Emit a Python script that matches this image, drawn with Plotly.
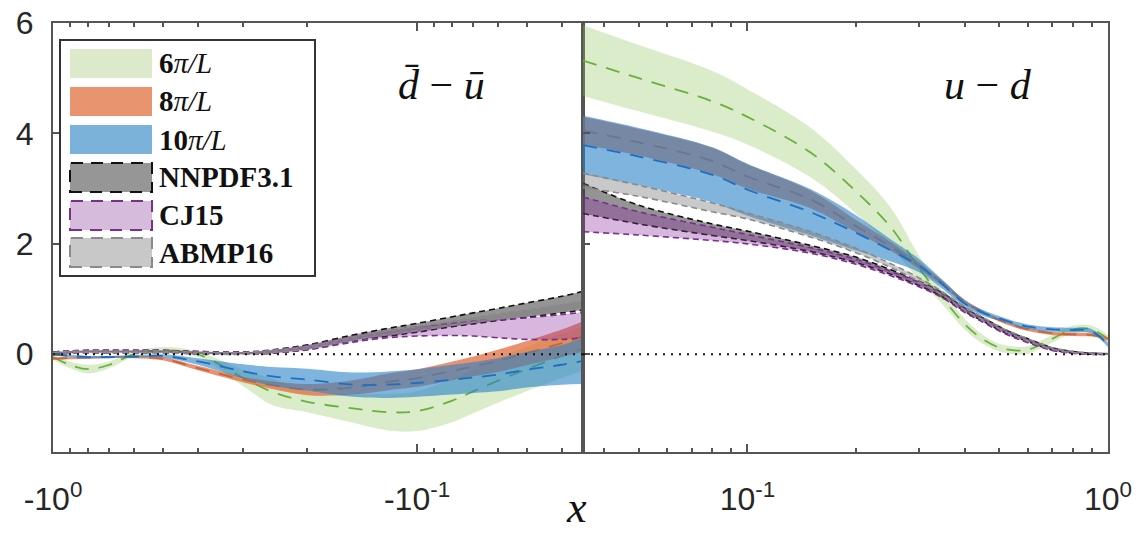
import plotly.graph_objects as go
import numpy as np

# ---------------- data ----------------
# left panel: d-bar minus u-bar, x negative
x_left = [-1.0, -0.9, -0.8, -0.7, -0.6, -0.5, -0.4, -0.3, -0.25, -0.2, -0.15, -0.12, -0.1,
          -0.08, -0.07, -0.06, -0.05, -0.04, -0.035]
# right panel: u minus d, x positive
x_right = [0.035, 0.05, 0.08, 0.1, 0.15, 0.2, 0.25, 0.3, 0.35, 0.4, 0.45, 0.5, 0.55, 0.6,
           0.7, 0.8, 0.9, 1.0]

dbub_6pi_c = [-0.05, -0.19, -0.27, -0.19, 0.0, 0.07, 0.0, -0.43, -0.68, -0.86, -0.98, -1.05, -1.03,
              -0.84, -0.67, -0.48, -0.27, -0.03, 0.1]
dbub_6pi_e = [0.05, 0.06, 0.08, 0.06, 0.05, 0.06, 0.05, 0.15, 0.24, 0.19, 0.26, 0.33, 0.36,
              0.39, 0.4, 0.4, 0.4, 0.4, 0.4]
dbub_8pi_c = [-0.08, -0.07, -0.06, -0.05, -0.05, -0.08, -0.25, -0.46, -0.56, -0.64, -0.6, -0.5, -0.43,
              -0.3, -0.22, -0.12, 0.02, 0.2, 0.32]
dbub_8pi_e = [0.02, 0.02, 0.02, 0.02, 0.02, 0.03, 0.04, 0.05, 0.07, 0.1, 0.13, 0.15, 0.16,
              0.17, 0.18, 0.2, 0.22, 0.25, 0.28]
dbub_10pi_c = [0.0, -0.03, -0.05, -0.05, -0.04, -0.03, -0.13, -0.31, -0.4, -0.46, -0.55, -0.55, -0.52,
               -0.46, -0.42, -0.37, -0.28, -0.19, -0.12]
dbub_10pi_e = [0.02, 0.02, 0.02, 0.02, 0.02, 0.03, 0.06, 0.13, 0.17, 0.2, 0.22, 0.24, 0.25,
               0.27, 0.28, 0.3, 0.32, 0.36, 0.42]
dbub_nnpdf_lo = [0.0, 0.02, 0.03, 0.03, 0.03, 0.03, 0.01, 0.0, 0.02, 0.09, 0.25, 0.33, 0.4,
                 0.5, 0.55, 0.61, 0.67, 0.75, 0.8]
dbub_nnpdf_hi = [0.04, 0.06, 0.07, 0.07, 0.07, 0.07, 0.05, 0.04, 0.08, 0.17, 0.35, 0.47, 0.56,
                 0.68, 0.75, 0.83, 0.93, 1.05, 1.14]
dbub_cj15_lo = [0.0, 0.02, 0.03, 0.03, 0.03, 0.03, 0.01, 0.0, 0.02, 0.08, 0.22, 0.3, 0.33,
                0.34, 0.33, 0.3, 0.27, 0.27, 0.3]
dbub_cj15_hi = [0.04, 0.06, 0.07, 0.07, 0.07, 0.07, 0.05, 0.04, 0.07, 0.16, 0.32, 0.42, 0.5,
                0.56, 0.6, 0.63, 0.66, 0.72, 0.76]
dbub_abmp_lo = [0.01, 0.02, 0.03, 0.03, 0.03, 0.03, 0.01, 0.0, 0.03, 0.1, 0.26, 0.36, 0.43,
                0.53, 0.58, 0.64, 0.7, 0.78, 0.84]
dbub_abmp_hi = [0.03, 0.05, 0.06, 0.06, 0.06, 0.06, 0.04, 0.03, 0.07, 0.14, 0.31, 0.42, 0.5,
                0.6, 0.66, 0.73, 0.8, 0.9, 0.96]

umd_6pi_c = [5.32, 5.0, 4.58, 4.3, 3.65, 2.95, 2.3, 1.55, 1.0, 0.55, 0.27, 0.12, 0.07, 0.08,
             0.28, 0.45, 0.45, 0.28]
umd_6pi_e = [0.64, 0.6, 0.55, 0.5, 0.45, 0.4, 0.35, 0.22, 0.12, 0.1, 0.08, 0.07, 0.07, 0.07,
             0.07, 0.07, 0.07, 0.07]
umd_8pi_c = [4.05, 3.84, 3.5, 3.22, 2.8, 2.32, 1.95, 1.6, 1.27, 0.95, 0.76, 0.62, 0.52, 0.45,
             0.38, 0.36, 0.35, 0.28]
umd_8pi_e = [0.25, 0.24, 0.24, 0.22, 0.16, 0.11, 0.08, 0.06, 0.05, 0.04, 0.03, 0.03, 0.03, 0.03,
             0.03, 0.03, 0.03, 0.03]
umd_10pi_c = [3.79, 3.58, 3.25, 2.98, 2.57, 2.2, 1.88, 1.6, 1.25, 0.92, 0.75, 0.65, 0.56, 0.5,
              0.45, 0.44, 0.42, 0.17]
umd_10pi_e = [0.53, 0.52, 0.5, 0.47, 0.42, 0.32, 0.2, 0.12, 0.08, 0.06, 0.05, 0.04, 0.04, 0.04,
              0.04, 0.04, 0.04, 0.04]
umd_nnpdf_lo = [2.55, 2.36, 2.15, 2.06, 1.86, 1.66, 1.45, 1.24, 1.03, 0.78, 0.6, 0.44, 0.32, 0.23,
                0.08, 0.02, 0.0, 0.0]
umd_nnpdf_hi = [3.1, 2.7, 2.36, 2.23, 1.97, 1.76, 1.53, 1.32, 1.1, 0.84, 0.66, 0.5, 0.37, 0.28,
                0.12, 0.05, 0.02, 0.01]
umd_cj15_lo = [2.22, 2.16, 2.06, 2.0, 1.83, 1.63, 1.42, 1.22, 1.01, 0.76, 0.58, 0.42, 0.3, 0.21,
               0.07, 0.02, 0.0, 0.0]
umd_cj15_hi = [2.85, 2.58, 2.3, 2.17, 1.93, 1.72, 1.5, 1.3, 1.08, 0.82, 0.64, 0.48, 0.35, 0.26,
               0.11, 0.04, 0.02, 0.01]
umd_abmp_lo = [3.02, 2.86, 2.58, 2.45, 2.12, 1.84, 1.57, 1.31, 1.06, 0.8, 0.62, 0.46, 0.34, 0.24,
               0.09, 0.03, 0.0, 0.0]
umd_abmp_hi = [3.28, 3.06, 2.74, 2.56, 2.22, 1.92, 1.64, 1.38, 1.12, 0.86, 0.67, 0.5, 0.38, 0.28,
               0.12, 0.05, 0.02, 0.01]

legend_labels = ["<b>6</b><i>π/L</i>", "<b>8</b><i>π/L</i>", "<b>10</b><i>π/L</i>",
                 "<b>NNPDF3.1</b>", "<b>CJ15</b>", "<b>ABMP16</b>"]

# ---------------- styles ----------------
FILL = {
    "6pi": "rgba(140,195,90,0.32)",
    "8pi": "rgba(225,100,50,0.70)",
    "10pi": "rgba(40,130,200,0.60)",
    "nnpdf": "rgba(60,60,60,0.55)",
    "cj15": "rgba(140,50,160,0.35)",
    "abmp": "rgba(120,120,120,0.40)",
}
LINE = {"6pi": "#6bb03d", "8pi": "#c8643c", "10pi": "#1f6fc0",
        "nnpdf": "#111111", "cj15": "#7a2e8e", "abmp": "#8a8a8a"}
SWATCH = {"6pi": "#dce9cb", "8pi": "#e8946e", "10pi": "#7ab2da",
          "nnpdf": "#969696", "cj15": "#d7bbdc", "abmp": "#c8c8c8"}

fig = go.Figure()


def add_band(xv, lo, hi, key, xa, ya, edge_dash=False, center=None):
    lw = 1.6 if edge_dash else 0
    fig.add_trace(go.Scatter(x=xv, y=lo, mode="lines", xaxis=xa, yaxis=ya,
                             line=dict(color=LINE[key], width=lw, dash="6px,4px", shape="spline"),
                             hoverinfo="skip", showlegend=False))
    fig.add_trace(go.Scatter(x=xv, y=hi, mode="lines", xaxis=xa, yaxis=ya, fill="tonexty",
                             fillcolor=FILL[key],
                             line=dict(color=LINE[key], width=lw, dash="6px,4px", shape="spline"),
                             hoverinfo="skip", showlegend=False))
    if center is not None:
        fig.add_trace(go.Scatter(x=xv, y=center, mode="lines", xaxis=xa, yaxis=ya,
                                 line=dict(color=LINE[key], width=1.8, dash="14px,10px", shape="spline"),
                                 hoverinfo="skip", showlegend=False))


xl = np.abs(np.array(x_left))
xr = np.array(x_right)

for xv, xa, ya, sets in [
    (xl, "x", "y", [(dbub_6pi_c, dbub_6pi_e, "6pi"), (dbub_8pi_c, dbub_8pi_e, "8pi"),
                    (dbub_10pi_c, dbub_10pi_e, "10pi")]),
    (xr, "x2", "y2", [(umd_6pi_c, umd_6pi_e, "6pi"), (umd_8pi_c, umd_8pi_e, "8pi"),
                      (umd_10pi_c, umd_10pi_e, "10pi")]),
]:
    for c, e, key in sets:
        c = np.array(c); e = np.array(e)
        add_band(xv, c - e, c + e, key, xa, ya, center=c)

for xv, xa, ya, sets in [
    (xl, "x", "y", [(dbub_nnpdf_lo, dbub_nnpdf_hi, "nnpdf"), (dbub_cj15_lo, dbub_cj15_hi, "cj15"),
                    (dbub_abmp_lo, dbub_abmp_hi, "abmp")]),
    (xr, "x2", "y2", [(umd_nnpdf_lo, umd_nnpdf_hi, "nnpdf"), (umd_cj15_lo, umd_cj15_hi, "cj15"),
                      (umd_abmp_lo, umd_abmp_hi, "abmp")]),
]:
    for lo, hi, key in sets:
        add_band(xv, lo, hi, key, xa, ya, edge_dash=True)

# ---------------- layout ----------------
W, H = 1140, 535
ML, MT = 53, 23
PW, PH = 1055, 429
MR = W - ML - PW
MB = H - MT - PH
split = (583 - 53) / PW


def P(px, py):
    """window pixel -> paper coords"""
    return (px - ML) / PW, (H - MB - py) / PH


axcol = "#555555"
tickfont = dict(family="Liberation Sans, Arial", size=32, color="#262626")
common_x = dict(type="log", showline=True, linecolor=axcol, linewidth=2, mirror="allticks",
                ticks="inside", ticklen=8, tickwidth=1.5, tickcolor=axcol, showgrid=False,
                zeroline=False, tickfont=tickfont, ticklabelstandoff=18, automargin=False,
                ticklabeloverflow="allow")
minor_l = dict(ticks="inside", ticklen=4, tickwidth=1.5, tickcolor=axcol, showgrid=False,
               tickvals=[0.9, 0.8, 0.7, 0.6, 0.5, 0.4, 0.3, 0.2, 0.09, 0.08, 0.07, 0.06, 0.05, 0.04])
fig.update_layout(
    width=W, height=H, margin=dict(l=ML, r=MR, t=MT, b=MB, autoexpand=False),
    paper_bgcolor="white", plot_bgcolor="white", showlegend=False,
    xaxis=dict(domain=[0, split], range=[0, np.log10(0.035)], anchor="y",
               tickvals=[1, 0.1], ticktext=["-10<sup>0</sup>", "-10<sup>-1</sup>"],
               minor=minor_l, **common_x),
    xaxis2=dict(domain=[split, 1], range=[np.log10(0.035), 0], anchor="y2",
                tickvals=[0.1, 1], ticktext=["10<sup>-1</sup>", "10<sup>0</sup>"],
                minor=minor_l, **common_x),
    yaxis=dict(range=[-1.77, 6.0], anchor="x", tickvals=[0, 2, 4, 6], ticktext=["0", "2", "4", "6"],
               showline=True, linecolor=axcol, linewidth=2, mirror=True, ticks="inside", ticklen=7,
               tickwidth=1.5, tickcolor=axcol, showgrid=False, zeroline=False, tickfont=tickfont,
               ticklabelstandoff=11, automargin=False, ticklabeloverflow="allow"),
    yaxis2=dict(range=[-1.77, 6.0], anchor="x2", matches="y", tickvals=[0, 2, 4, 6],
                showticklabels=False, showline=True, linecolor=axcol, linewidth=2, mirror=True,
                ticks="inside", ticklen=7, tickwidth=1.5, tickcolor=axcol, showgrid=False,
                zeroline=False, automargin=False),
)

shapes = []
# zero reference lines
for xr_, yr_ in [("x domain", "y"), ("x2 domain", "y2")]:
    shapes.append(dict(type="line", xref=xr_, yref=yr_, x0=0, x1=1, y0=0, y1=0, layer="above",
                       line=dict(color="#111111", width=2, dash="2px,6px")))

# legend box
x0, y0 = P(60, 40)
x1, y1 = P(315, 276)
shapes.append(dict(type="rect", xref="paper", yref="paper", x0=x0, x1=x1, y0=y1, y1=y0,
                   fillcolor="white", line=dict(color="#333333", width=2), layer="above"))
annotations = []
keys = ["6pi", "8pi", "10pi", "nnpdf", "cj15", "abmp"]
row_tops = [49, 87, 125, 163, 201, 238]
for key, top, lab in zip(keys, row_tops, legend_labels):
    sx0, sy0 = P(70, top)
    sx1, sy1 = P(152, top + 29)
    dashed = key in ("nnpdf", "cj15", "abmp")
    shapes.append(dict(type="rect", xref="paper", yref="paper", x0=sx0, x1=sx1, y0=sy1, y1=sy0,
                       fillcolor=SWATCH[key], layer="above",
                       line=dict(color=LINE[key] if dashed else SWATCH[key], width=2 if dashed else 0,
                                 dash="12px,8px")))
    tx, ty = P(157, top + 14.5)
    annotations.append(dict(xref="paper", yref="paper", x=tx, y=ty, xanchor="left", yanchor="middle",
                            text=lab, showarrow=False,
                            font=dict(family="Liberation Serif", size=29, color="#111111")))

# panel labels and axis title
ax_, ay_ = P(441, 85)
annotations.append(dict(xref="paper", yref="paper", x=ax_, y=ay_, xanchor="center", yanchor="middle",
                        text="<i>d\u0304</i> − <i>ū</i>", showarrow=False,
                        font=dict(family="Liberation Serif", size=42, color="#111111")))
ax_, ay_ = P(988, 85)
annotations.append(dict(xref="paper", yref="paper", x=ax_, y=ay_, xanchor="center", yanchor="middle",
                        text="<i>u</i> − <i>d</i>", showarrow=False,
                        font=dict(family="Liberation Serif", size=42, color="#111111")))
ax_, ay_ = P(576, 534)
annotations.append(dict(xref="paper", yref="paper", x=ax_, y=ay_, xanchor="center", yanchor="bottom",
                        text="<i>x</i>", showarrow=False,
                        font=dict(family="Liberation Serif", size=44, color="#111111")))

fig.update_layout(shapes=shapes, annotations=annotations)
fig.write_html("out.html", config={"displayModeBar": False},
               post_script="document.body.style.margin='0';")
